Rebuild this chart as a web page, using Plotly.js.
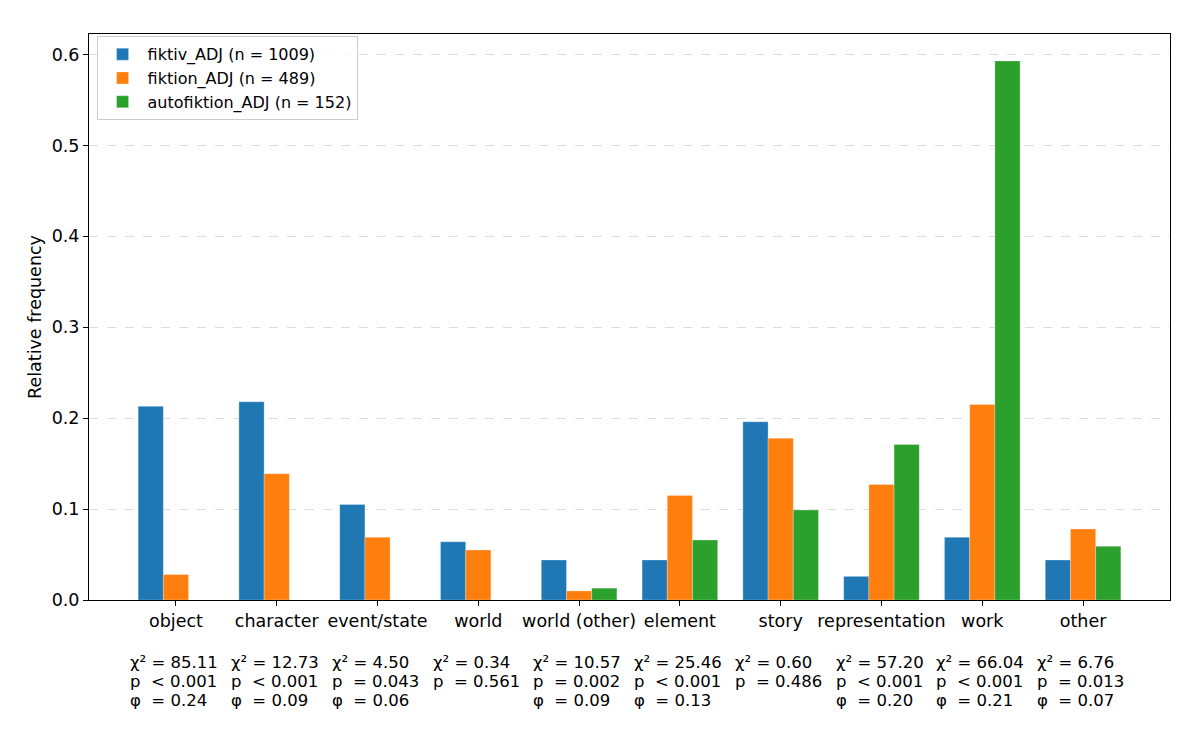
<!DOCTYPE html>
<html>
<head>
<meta charset="utf-8">
<script src="https://cdn.plot.ly/plotly-3.0.1.min.js"></script>
<style>html,body{margin:0;padding:0;background:#fff;}#chart{width:1200px;height:736px;}</style>
</head>
<body>
<div id="chart"></div>
<script>
const categories = ["object","character","event/state","world","world (other)","element","story","representation","work","other"];
const seriesNames = ["fiktiv_ADJ (n = 1009)","fiktion_ADJ (n = 489)","autofiktion_ADJ (n = 152)"];
const fiktiv = [0.213,0.218,0.105,0.064,0.044,0.044,0.196,0.026,0.069,0.044];
const fiktion = [0.028,0.139,0.069,0.055,0.010,0.115,0.178,0.127,0.215,0.078];
const autofiktion = [0,0,0,0,0.013,0.066,0.099,0.171,0.593,0.059];
const chi2 = ["85.11","12.73","4.50","0.34","10.57","25.46","0.60","57.20","66.04","6.76"];
const pvals = ["< 0.001","< 0.001","= 0.043","= 0.561","= 0.002","< 0.001","= 0.486","< 0.001","< 0.001","= 0.013"];
const phis = ["0.24","0.09","0.06",null,"0.09","0.13",null,"0.20","0.21","0.07"];
const colors = ["#1f77b4","#ff7f0e","#2ca02c"];

const FONT = "DejaVu Sans";
const FS = 17.5;
const AFS = 16.5;
const nb = "\u00a0";

const traces = [fiktiv, fiktion, autofiktion].map((vals, i) => ({
  type: "bar",
  x: categories,
  y: vals,
  name: seriesNames[i],
  marker: {color: colors[i], line: {width: 0.6, color: "rgba(255,255,255,0.45)"}},
  hoverinfo: "x+y+name"
}));

const cv = document.createElement("canvas").getContext("2d");
cv.font = AFS + "px '" + FONT + "'";
const lineShifts = [-62, -81, -100];
const annotations = [];
categories.forEach((c, i) => {
  let lines = ["χ² = " + chi2[i], "p" + nb + nb + pvals[i]];
  if (phis[i] !== null) lines.push("φ" + nb + nb + "= " + phis[i]);
  const w = Math.max(...lines.map(l => cv.measureText(l).width));
  lines.forEach((l, k) => {
    annotations.push({
      x: c, xref: "x", y: 0, yref: "paper",
      xanchor: "left", yanchor: "middle", align: "left",
      xshift: -w / 2 - 4, yshift: lineShifts[k],
      showarrow: false,
      text: l,
      font: {family: FONT, size: AFS, color: "#000"}
    });
  });
});

const layout = {
  width: 1200, height: 736,
  margin: {l: 89, r: 30, t: 34, b: 136},
  paper_bgcolor: "#fff", plot_bgcolor: "#fff",
  font: {family: FONT, size: FS, color: "#000"},
  barmode: "group", bargap: 0.25, bargroupgap: 0,
  showlegend: true,
  legend: {
    x: 0.007, y: 0.996, xanchor: "left", yanchor: "top",
    bgcolor: "rgba(255,255,255,0.8)", bordercolor: "#cccccc", borderwidth: 1,
    font: {family: FONT, size: 16, color: "#000"},
    itemwidth: 40,
    tracegroupgap: 0
  },
  xaxis: {
    type: "category",
    range: [-0.8625, 9.8625],
    showline: true, linecolor: "#000", linewidth: 1, mirror: true,
    ticks: "outside", ticklen: 5, tickcolor: "#000",
    showgrid: false, zeroline: false,
    tickfont: {family: FONT, size: FS, color: "#000"}
  },
  yaxis: {
    range: [0, 0.6226],
    tickvals: [0,0.1,0.2,0.3,0.4,0.5,0.6],
    ticktext: ["0.0","0.1","0.2","0.3","0.4","0.5","0.6"],
    showline: true, linecolor: "#000", linewidth: 1, mirror: true,
    ticks: "outside", ticklen: 5, tickcolor: "#000",
    showgrid: true, gridcolor: "#dddddd", griddash: "dash", gridwidth: 1,
    zeroline: false,
    tickfont: {family: FONT, size: FS, color: "#000"},
    title: {text: "Relative frequency", font: {family: FONT, size: FS, color: "#000"}, standoff: 5}
  },
  annotations: annotations
};

Plotly.newPlot("chart", traces, layout, {displayModeBar: false, staticPlot: true});
</script>
</body>
</html>
